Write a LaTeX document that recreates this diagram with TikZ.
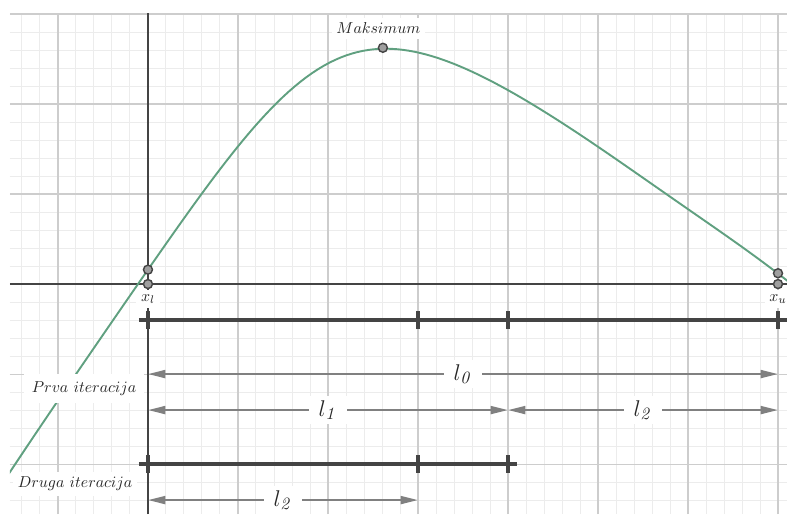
\documentclass[tikz,border=0pt]{standalone}
\usepackage{amsmath}
\usepackage{xcolor}
\usetikzlibrary{arrows.meta, positioning}

\definecolor{krivulja}{RGB}{96,160,128}
\definecolor{mreza}{RGB}{205,205,205}
\definecolor{mrezica}{RGB}{236,236,236}
\definecolor{tamna}{RGB}{68,68,68}
\definecolor{siva}{RGB}{128,128,128}

\begin{document}
\begin{tikzpicture}[x=2cm, y=2cm, >={Triangle[length=11pt,width=5pt]},
    curve/.style={krivulja, line width=1.2pt},
    axis/.style={tamna, line width=0.9pt},
    bar/.style={tamna, line width=2.8pt},
    dim/.style={<->, siva, line width=1.4pt},
    pt/.style={circle, draw=tamna, fill=gray!75, line width=0.9pt, inner sep=0pt, minimum size=0.2cm},
    lab/.style={fill=white, text=black!85, inner sep=3pt, font=\fontsize{10.2}{12}\selectfont},
    len/.style={fill=white, text=black!85, inner xsep=6pt, inner ysep=3pt, font=\fontsize{15.4}{18}\selectfont}]
    \fill[white] (-1.644,-2.556) rectangle (7.1,3.156);
    \useasboundingbox (-1.644,-2.556) rectangle (7.1,3.156);

    % grid and axes
    \draw[mrezica, line width=0.6pt] (-1.533,-2.556) grid[step=0.2] (7.1,3.01);
    \draw[mreza, line width=0.7pt] (-1.533,-2.556) grid[step=1] (7.1,3.01);
    \draw[axis] (-1.533,0) -- (7.1,0);
    \draw[axis] (0,-2.556) -- (0,3.01);

    % function
    \begin{scope}
        \clip (-1.533,-2.556) rectangle (7.1,3.01);
        \draw[curve] plot[domain=-1.6:7.2, samples=140] (\x, {0.43*\x+3.5-1.25*sqrt((\x-2.06)^2+2.25)-0.155*exp(-(\x/1.6)^2)+0.06*exp(-(\x-7)^2)});
    \end{scope}

    % points
    \node[pt] (xl) at (0,0) {};
    \node[pt] (fl) at (0,0.16) {};
    \node[pt] (xu) at (7,0) {};
    \node[pt] (fu) at (7,0.12) {};
    \node[pt] (maks) at (2.61,2.625) {};
    \node[lab, below=0pt of xl] (xlt) {$x_l$};
    \node[lab, below=0pt of xu] (xut) {$x_u$};
    \node[lab, above=0.08cm of maks, xshift=-0.1cm] (makst) {$Maksimum$};

    % iterations
    \node[lab, inner sep=5pt] (prva) at (-0.71,-1.16) {$Prva\ iteracija$};
    \node[lab] (druga) at (-0.81,-2.22) {$Druga\ iteracija$};

    \coordinate (a0) at (-0.1,-0.4);
    \coordinate (a1) at (7.3,-0.4);
    \coordinate (b0) at (-0.1,-2);
    \coordinate (b1) at (4.1,-2);
    \draw[bar] (a0) -- (a1);
    \draw[bar] (b0) -- (b1);
    \foreach \x in {0,3,4,7}
        \draw[bar, line width=2.2pt] (\x,-0.5) -- (\x,-0.3);
    \foreach \x in {0,3,4}
        \draw[bar, line width=2.2pt] (\x,-2.1) -- (\x,-1.9);

    \coordinate (p0) at (0,-1);
    \coordinate (p7) at (7,-1);
    \coordinate (q0) at (0,-1.4);
    \coordinate (q4) at (4,-1.4);
    \coordinate (q7) at (7,-1.4);
    \coordinate (r0) at (0,-2.4);
    \coordinate (r3) at (3,-2.4);
    \draw[dim] (p0) -- node[len] (l0) {$l_{\mathit{0}}$} (p7);
    \draw[dim] (q0) -- node[len] (l1) {$l_{\mathit{1}}$} (q4);
    \draw[dim] (q4) -- node[len] (l2) {$l_{\mathit{2}}$} (q7);
    \draw[dim] (r0) -- node[len] (l2b) {$l_{\mathit{2}}$} (r3);
\end{tikzpicture}
\end{document}
